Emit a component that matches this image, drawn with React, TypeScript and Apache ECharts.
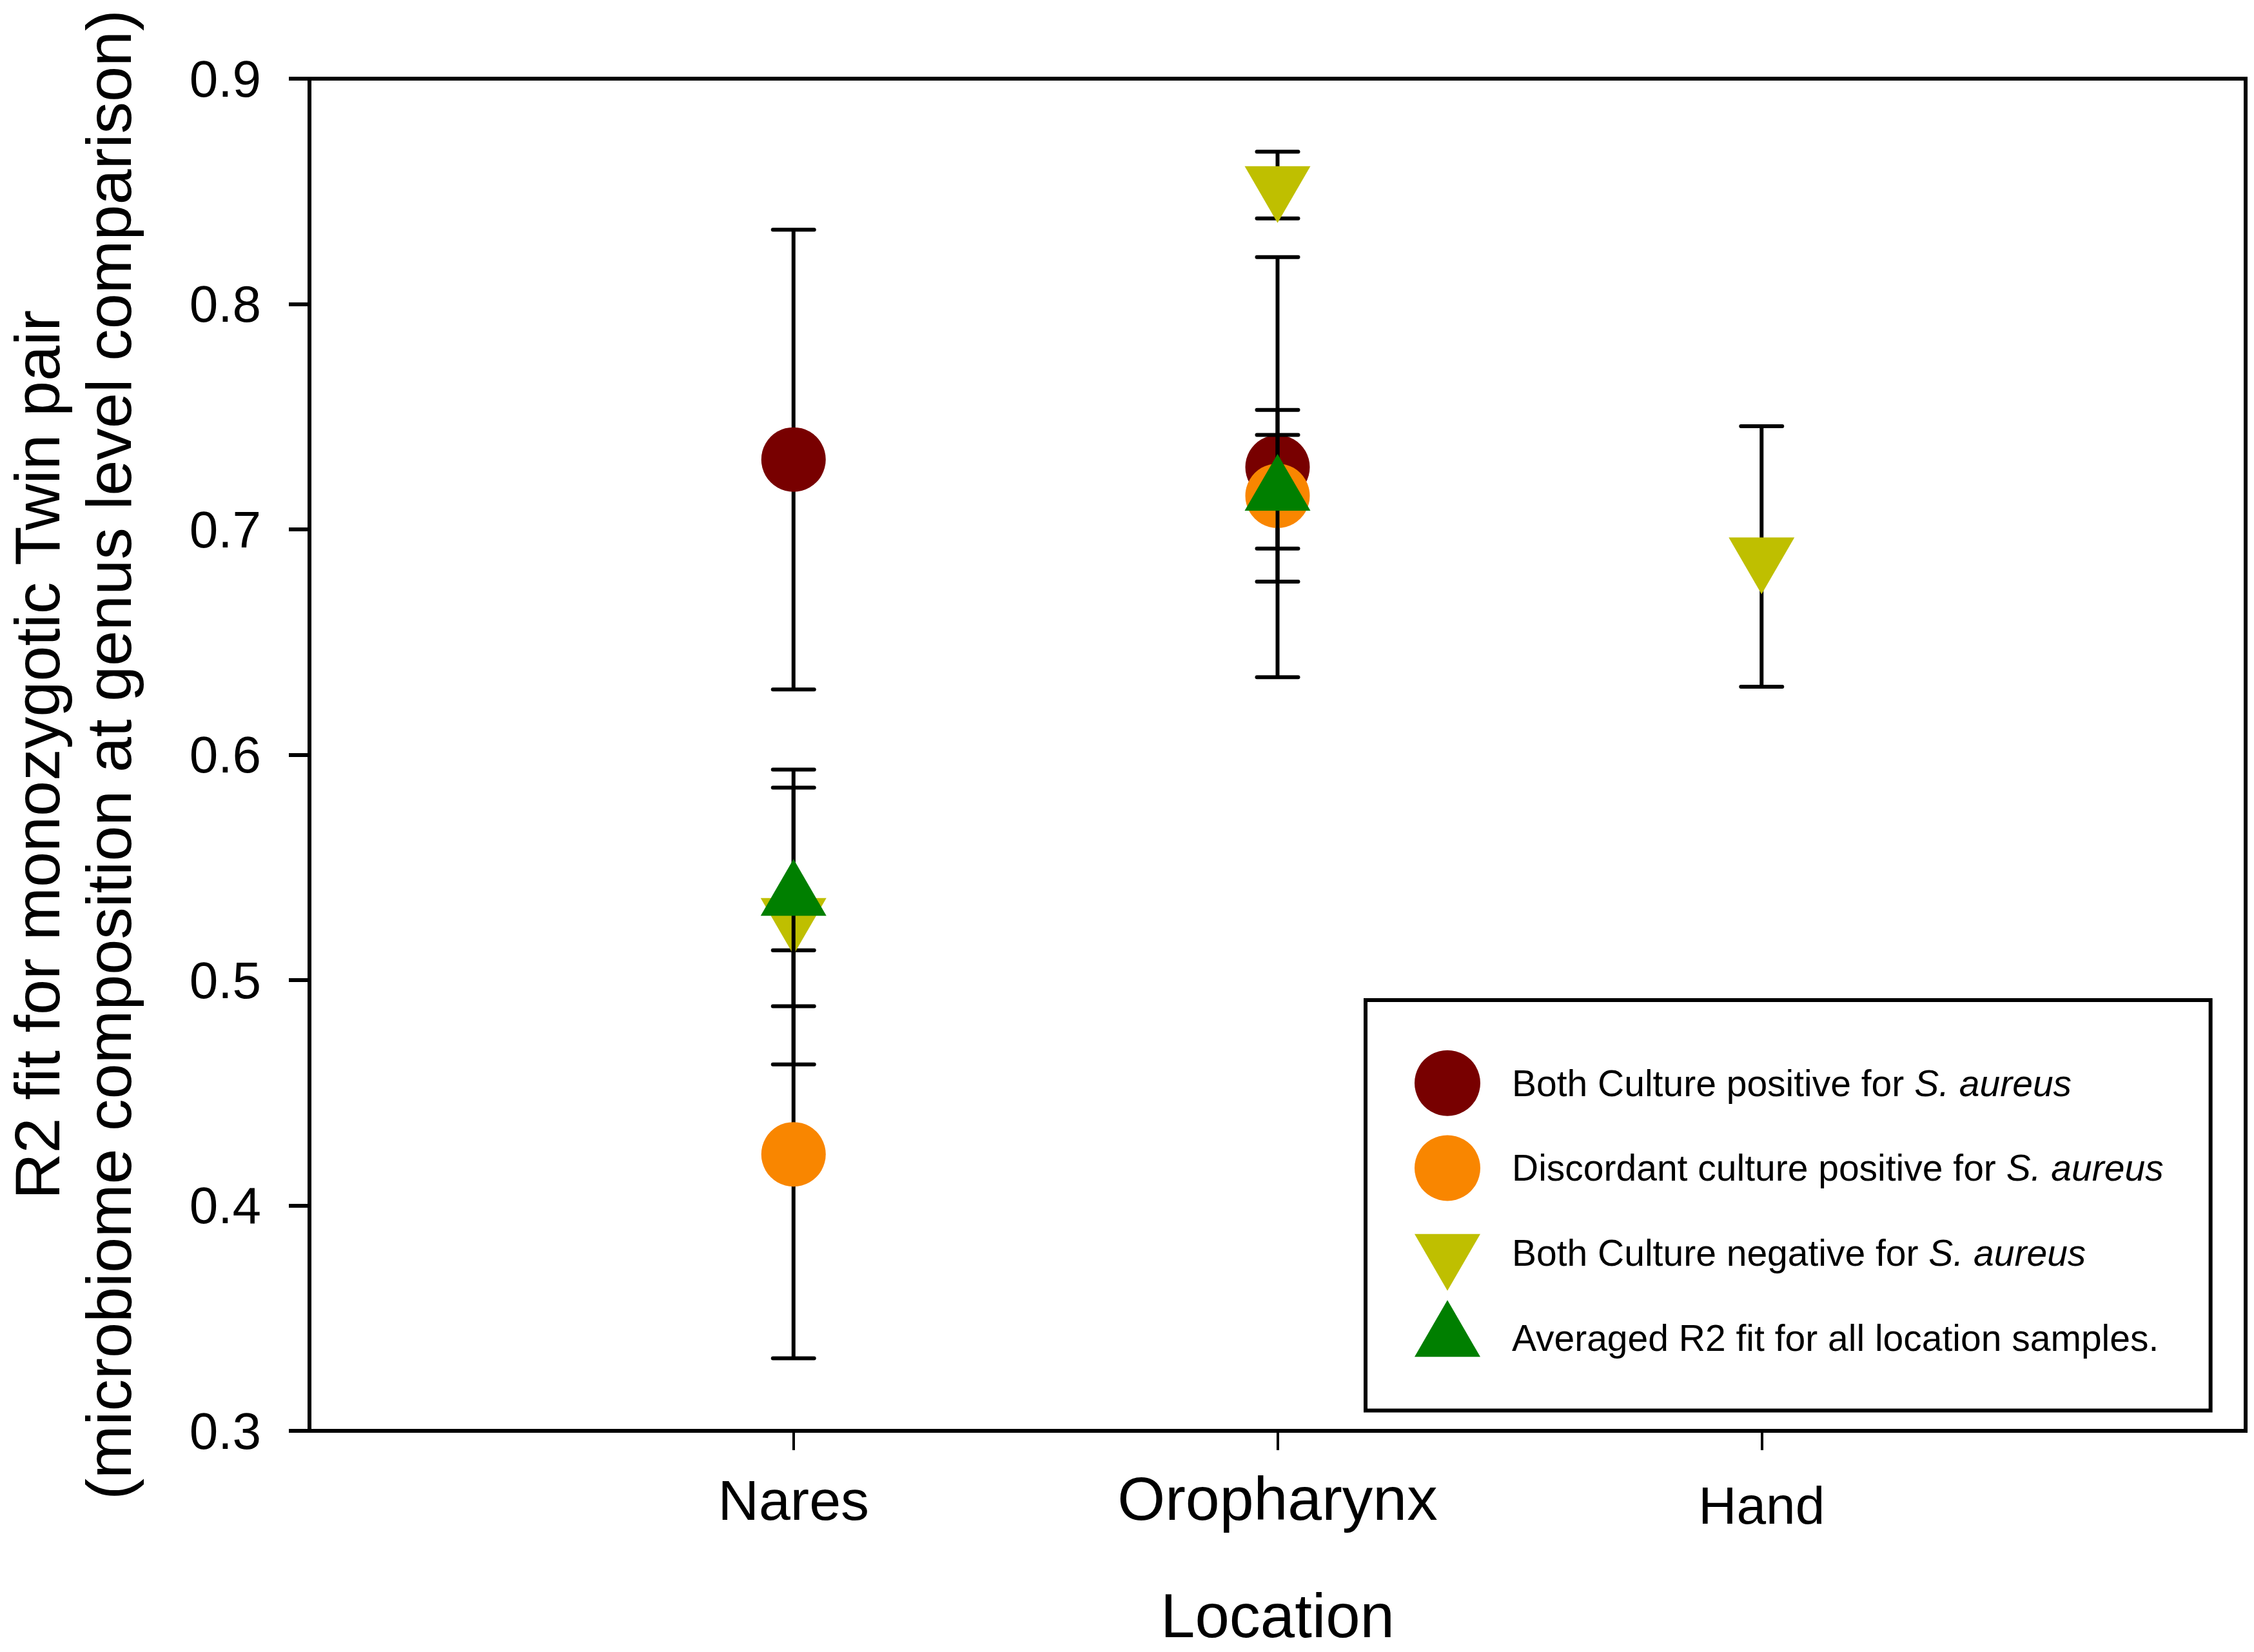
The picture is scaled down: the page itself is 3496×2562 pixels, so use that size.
import React, { useEffect, useRef } from "react";
import * as echarts from "echarts";

const categories = ["Nares", "Oropharynx", "Hand"];
const categoryPositions = [1, 2, 3];

const seriesNames = [
  "Both Culture positive for S. aureus",
  "Discordant culture positive for S. aureus",
  "Both Culture negative for S. aureus",
  "Averaged R2 fit for all location samples.",
];

const bothPositiveMean = [0.731, 0.7276, null];
const bothPositiveErr = [0.102, 0.0932, null];
const discordantMean = [0.4227, 0.7149, null];
const discordantErr = [0.0905, 0.0381, null];
const bothNegativeMean = [0.528, 0.8528, 0.688];
const bothNegativeErr = [0.0654, 0.0148, 0.0578];
const averagedMean = [0.5369, 0.7167, null];
const averagedErr = [0.0485, 0.0252, null];

const yTicks = [0.3, 0.4, 0.5, 0.6, 0.7, 0.8, 0.9];

const colors = ["#780000", "#F98600", "#BFBF00", "#007F00"];
const FONT = "'Liberation Sans', Arial, sans-serif";

// Triangles whose bounding box is centred on the centroid (extra move point)
const DOWN_TRI = "path://M51,-29.33M0,0L102,0L51,88Z";
const UP_TRI = "path://M51,117.33M51,0L102,88L0,88Z";
const symbols = ["circle", "circle", DOWN_TRI, UP_TRI];
const symbolSizes: any[] = [100, 100, [102, 117.33], [102, 117.33]];

const means = [bothPositiveMean, discordantMean, bothNegativeMean, averagedMean];
const errs = [bothPositiveErr, discordantErr, bothNegativeErr, averagedErr];

export default function App() {
  const ref = useRef<HTMLDivElement>(null);
  useEffect(() => {
    if (!ref.current) return;
    const chart = echarts.init(ref.current, null, { renderer: "svg" });
    const series: any[] = [];
    means.forEach((m, si) => {
      const pts: any[] = [];
      const bars: any[] = [];
      m.forEach((v, ci) => {
        if (v == null) return;
        pts.push([categoryPositions[ci], v]);
        bars.push([categoryPositions[ci], v, errs[si][ci]]);
      });
      series.push({
        type: "custom",
        name: "err" + si,
        z: 2 + si * 2,
        data: bars,
        silent: true,
        renderItem: (params: any, api: any) => {
          const x = api.value(0);
          const y = api.value(1);
          const e = api.value(2);
          const t = api.coord([x, y + e]);
          const b = api.coord([x, y - e]);
          const hw = 32;
          const st = { stroke: "#000", lineWidth: 6, lineCap: "round" };
          return {
            type: "group",
            children: [
              { type: "line", shape: { x1: t[0], y1: t[1], x2: b[0], y2: b[1] }, style: { stroke: "#000", lineWidth: 6 } },
              { type: "line", shape: { x1: t[0] - hw, y1: t[1], x2: t[0] + hw, y2: t[1] }, style: st },
              { type: "line", shape: { x1: b[0] - hw, y1: b[1], x2: b[0] + hw, y2: b[1] }, style: st },
            ],
          };
        },
      });
      series.push({
        type: "scatter",
        name: seriesNames[si],
        z: 3 + si * 2,
        data: pts,
        symbol: symbols[si],
        symbolSize: symbolSizes[si],
        itemStyle: { color: colors[si], opacity: 1 },
        emphasis: { disabled: true },
      });
    });

    chart.setOption({
      animation: false,
      backgroundColor: "#fff",
      grid: {
        left: 480,
        right: 13,
        top: 122,
        bottom: 343,
        containLabel: false,
        outerBoundsMode: "none",
        show: true,
        borderColor: "#000",
        borderWidth: 6,
        backgroundColor: "transparent",
      },
      xAxis: {
        type: "value",
        min: 0,
        max: 4,
        interval: 1,
        name: "Location",
        nameLocation: "middle",
        nameGap: 246,
        nameTextStyle: { fontSize: 96, lineHeight: 80, fontFamily: FONT, color: "#000" },
        axisLine: { show: true, onZero: false, lineStyle: { color: "#000", width: 6 } },
        axisTick: { show: true, customValues: categoryPositions, length: 30, lineStyle: { color: "#000", width: 4 } },
        splitLine: { show: false },
        axisLabel: {
          customValues: categoryPositions,
          margin: 63,
          color: "#000",
          fontFamily: FONT,
          formatter: (v: number) => {
            const i = categoryPositions.indexOf(Math.round(v));
            return i < 0 ? "" : `{c${i}|${categories[i]}}`;
          },
          rich: {
            c0: { fontSize: 88, lineHeight: 88, fontFamily: FONT, color: "#000" },
            c1: { fontSize: 95, lineHeight: 84, fontFamily: FONT, color: "#000" },
            c2: { fontSize: 82, lineHeight: 104, fontFamily: FONT, color: "#000" },
          },
        },
      },
      yAxis: {
        type: "value",
        min: yTicks[0],
        max: yTicks[yTicks.length - 1],
        interval: 0.1,
        name: "R2 fit for monozygotic Twin pair\n(microbiome composition at genus level comparison)",
        nameLocation: "middle",
        nameRotate: 90,
        nameGap: 256,
        nameTextStyle: { fontSize: 99, lineHeight: 111, fontFamily: FONT, color: "#000", align: "center" },
        axisLine: { show: true, onZero: false, lineStyle: { color: "#000", width: 6 } },
        axisTick: { show: true, length: 32, lineStyle: { color: "#000", width: 6 } },
        splitLine: { show: false },
        axisLabel: {
          margin: 75,
          fontSize: 80,
          fontFamily: FONT,
          color: "#000",
          formatter: (v: number) => v.toFixed(1),
        },
      },
      legend: {
        data: seriesNames,
        orient: "vertical",
        left: 2118,
        top: 1551,
        padding: [70, 73, 54, 76],
        itemWidth: 102,
        itemHeight: 117.33,
        itemGap: 14.4,
        selectedMode: false,
        borderColor: "#000",
        borderWidth: 6,
        backgroundColor: "#fff",
        symbolKeepAspect: true,
        formatter: (name: string) => name.replace("S. aureus", "{i|S. aureus}"),
        textStyle: {
          fontSize: 57,
          lineHeight: 117.33,
          fontFamily: FONT,
          color: "#000",
          padding: [0, 0, 0, 44],
          rich: {
            i: { fontSize: 57, lineHeight: 117.33, fontFamily: FONT, fontStyle: "italic", color: "#000" },
          },
        },
      },
      series,
    });
    return () => chart.dispose();
  }, []);
  return (
    <div
      ref={ref}
      style={{ position: "fixed", left: 0, top: 0, width: 3496, height: 2562, background: "#fff" }}
    />
  );
}
